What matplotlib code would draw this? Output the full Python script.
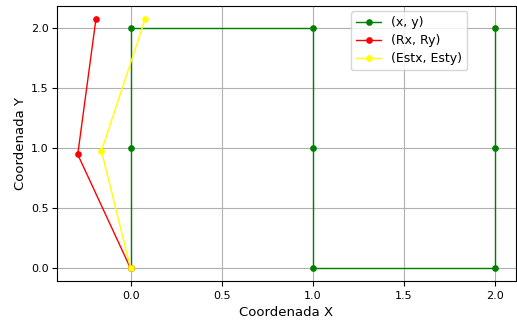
import matplotlib.pyplot as plt

x = [0, 0, 0, 1, 1, 1, 2, 2, 2]
y = [0, 1, 2, 2, 1, 0, 0, 1, 2]
rx = [0, -0.29, -0.19]
ry = [0, 0.95, 2.08]
estx = [0, -0.16, 0.08]
esty = [0, 0.98, 2.08]

fig, ax = plt.subplots(figsize=(5.17, 3.2), dpi=100)
ax.plot(x, y, 'o-', color='green', markersize=3.8, linewidth=1, label='(x, y)')
ax.plot(rx, ry, 'o-', color='red', markersize=3.8, linewidth=1, label='(Rx, Ry)')
ax.plot(estx, esty, 'o-', color='yellow', markersize=3.8, linewidth=1, label='(Estx, Esty)')
ax.set_xlabel('Coordenada X', fontsize=9.5)
ax.set_ylabel('Coordenada Y', fontsize=9.5, labelpad=3)
ax.set_xticks([0, 0.5, 1, 1.5, 2])
ax.set_yticks([0, 0.5, 1, 1.5, 2])
ax.tick_params(labelsize=8)
ax.tick_params(axis='y', pad=2.5)
ax.grid(True)
ax.legend(fontsize=9, loc='upper right', bbox_to_anchor=(0.908, 1.005), labelspacing=0.4)
plt.subplots_adjust(left=0.11, right=0.998, top=0.98, bottom=0.122)
plt.savefig('out.png', dpi=100)
